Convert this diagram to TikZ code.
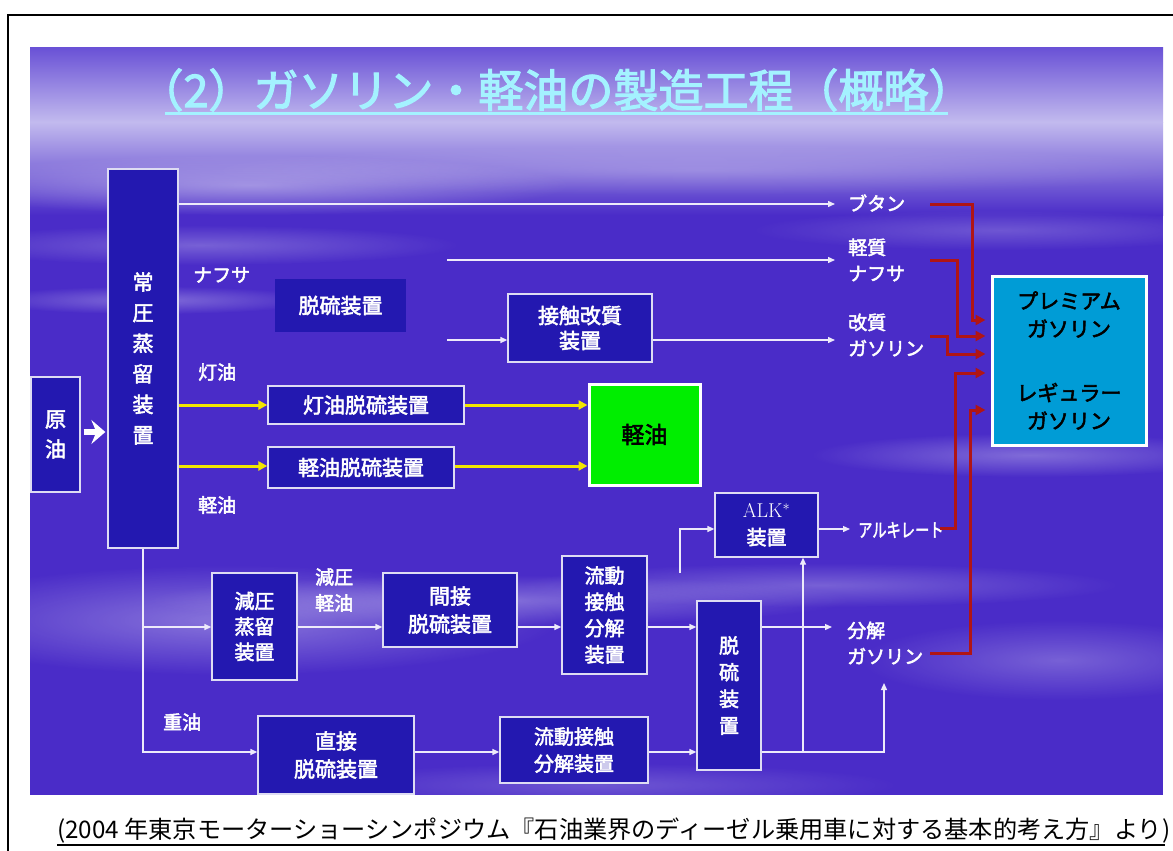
\documentclass[tikz,border=0pt]{standalone}
\usepackage{fontspec}
\usepackage{graphicx}
\newfontfamily\jp{Noto Sans CJK JP}
\newfontfamily\jpb{Noto Sans CJK JP}[FakeBold=2.5]
\usetikzlibrary{arrows.meta,fadings,calc}
\definecolor{bg}{HTML}{4A2CC8}
\definecolor{bgtop}{HTML}{6A52D6}
\definecolor{bglight}{HTML}{C2BAEE}
\definecolor{boxblue}{HTML}{2318B0}
\definecolor{gasblue}{HTML}{009CD6}
\definecolor{oilgreen}{HTML}{00EE00}
\definecolor{redline}{HTML}{B01515}
\definecolor{yel}{HTML}{F2E600}
\definecolor{titlecyan}{HTML}{A4F2FF}
\tikzfading[name=soft, inner color=transparent!0, outer color=transparent!100]
\tikzset{
  box/.style={draw=white!85!boxblue, line width=1.3pt, fill=boxblue, text=white,
    font=\jpb\fontsize{21}{28}\selectfont, align=center, inner sep=0pt},
  lbl/.style={text=white, font=\jpb\fontsize{19}{26}\selectfont, align=left, inner sep=0pt, anchor=west},
  wl/.style={draw=white!90!bg, line width=1.3pt, -{Triangle[length=7pt,width=6pt]}},
  yl/.style={draw=yel, line width=3pt, -{Triangle[length=9pt,width=9pt]}},
  rl/.style={draw=redline, line width=3pt, -{Triangle[length=10pt,width=10pt]}, shorten >=5pt},
  streak/.style={fill=white, path fading=soft},
}
\begin{document}
\begin{tikzpicture}[x=1pt,y=-1pt]
\useasboundingbox (0,0) rectangle (1173,851);
\fill[white] (0,0) rectangle (1173,851);
% slide background
\fill[bg] (30,48) rectangle (1163,795);
\begin{scope}
\clip (30,48) rectangle (1163,795);
\shade[top color=bgtop, bottom color=bglight] (30,48) rectangle (1163,122);
\shade[top color=bglight, bottom color=bg] (30,122) rectangle (1163,215);
\fill[streak, opacity=0.35] (250,185) ellipse [x radius=320, y radius=30];
\fill[streak, opacity=0.25] (200,245) ellipse [x radius=260, y radius=20];
\fill[streak, opacity=0.2] (700,170) ellipse [x radius=500, y radius=25];
\fill[streak, opacity=0.3] (150,300) ellipse [x radius=170, y radius=14];
\fill[streak, opacity=0.35] (230,620) ellipse [x radius=330, y radius=55];
\fill[streak, opacity=0.3] (500,600) ellipse [x radius=350, y radius=25];
\fill[streak, opacity=0.25] (820,585) ellipse [x radius=300, y radius=22];
\fill[streak, opacity=0.3] (1030,455) ellipse [x radius=220, y radius=22];
\fill[streak, opacity=0.25] (1060,660) ellipse [x radius=200, y radius=40];
\fill[streak, opacity=0.2] (600,785) ellipse [x radius=300, y radius=22];
\fill[streak, opacity=0.2] (1000,230) ellipse [x radius=250, y radius=20];
\end{scope}
% frame
\draw[line width=2.5pt] (8,851) -- (8,15) -- (1173,15);
% title
\node[font=\jpb\fontsize{45}{45}\selectfont, text=titlecyan, inner sep=0pt] (title) at (556,90) {（2）ガソリン・軽油の製造工程（概略）};
\draw[titlecyan, line width=3pt] (165,113) -- (948,113);
% boxes
\node[box, minimum width=49pt, minimum height=115pt, font=\jpb\fontsize{21}{30}\selectfont] (gen) at (55.5,434.5) {原\\油};
\node[box, minimum width=70pt, minimum height=379pt, font=\jpb\fontsize{21}{30.6}\selectfont] (jouatsu) at (143,358.5) {常\\圧\\蒸\\留\\装\\置};
\node[box, draw=boxblue, minimum width=129pt, minimum height=51pt] (datsu1) at (340.5,305.5) {脱硫装置};
\node[box, minimum width=144pt, minimum height=68pt, font=\jpb\fontsize{21}{25}\selectfont] (sesshoku) at (580,328) {接触改質\\装置};
\node[box, minimum width=196pt, minimum height=38pt] (toyu) at (366,405) {灯油脱硫装置};
\node[box, minimum width=186pt, minimum height=41pt] (keiyud) at (361,467.5) {軽油脱硫装置};
\node[box, draw=white, line width=3pt, fill=oilgreen, text=black, minimum width=111pt, minimum height=101pt, font=\jpb\fontsize{23}{28}\selectfont] (keiyu) at (644.5,434.5) {軽油};
\node[box, draw=white, line width=3pt, fill=gasblue, text=black, minimum width=154pt, minimum height=169pt, font=\jpb\fontsize{21}{28}\selectfont] (gas) at (1069,360.5) {プレミアム\\ガソリン\\[36pt]レギュラー\\ガソリン};
\node[box, minimum width=103pt, minimum height=64pt, font=\jpb\fontsize{20}{27}\selectfont] (alk) at (766.5,525) {{\rmfamily ALK$^{\ast}$}\\装置};
\node[box, minimum width=85pt, minimum height=107pt, font=\jpb\fontsize{20}{25.5}\selectfont] (genatsu) at (254.5,626.5) {減圧\\蒸留\\装置};
\node[box, minimum width=134pt, minimum height=74pt, font=\jpb\fontsize{21}{28}\selectfont] (kansetsu) at (450,610) {間接\\脱硫装置};
\node[box, minimum width=85pt, minimum height=118pt, font=\jpb\fontsize{20}{26.3}\selectfont] (ryudo1) at (604.5,615) {流動\\接触\\分解\\装置};
\node[box, minimum width=64pt, minimum height=169pt, font=\jpb\fontsize{20}{26.7}\selectfont] (datsu2) at (729,685.5) {脱\\硫\\装\\置};
\node[box, minimum width=156pt, minimum height=78pt, font=\jpb\fontsize{21}{28}\selectfont] (chokusetsu) at (336,755) {直接\\脱硫装置};
\node[box, minimum width=148pt, minimum height=66pt, font=\jpb\fontsize{20}{27}\selectfont] (ryudo2) at (574,750) {流動接触\\分解装置};
% labels
\node[lbl] (lb1) at (848,203) {ブタン};
\node[lbl] (lb2) at (848,260) {軽質\\ナフサ};
\node[lbl] (lb3) at (848,335) {改質\\ガソリン};
\node[lbl] (lb4) at (193,275) {ナフサ};
\node[lbl] (lb5) at (198,372) {灯油};
\node[lbl] (lb6) at (198,505) {軽油};
\node[lbl] (lb7) at (858,530) {\scalebox{0.75}[1]{アルキレート}};
\node[lbl] (lb8) at (847,643) {分解\\ガソリン};
\node[lbl] (lb9) at (315,590) {減圧\\軽油};
\node[lbl] (lb10) at (163,722) {重油};
% coordinates
\coordinate (bE) at (835,204);
\coordinate (nA) at (447,260);
\coordinate (nAe) at (835,260);
\coordinate (nB) at (447,340);
\coordinate (kE) at (835,340);
\coordinate (alkS) at (680,573);
\coordinate (alkE) at (850,529);
\coordinate (bunE) at (832,627);
\coordinate (bunUp) at (884,683);
\coordinate (r1) at (0,627);
\coordinate (r2) at (0,752);
\coordinate (br) at (803,752);
\coordinate (ya) at (0,320);
\coordinate (yb) at (0,336);
\coordinate (yc) at (0,354);
\coordinate (yd) at (0,373);
\coordinate (ye) at (0,410);
\coordinate (yk) at (0,466);
\coordinate (yg) at (0,432);
% crude arrow
\draw[white, line width=6pt, -{Stealth[length=14pt,width=24pt,inset=5pt]}] ([xshift=3pt]gen.east |- yg) -- ([xshift=-2pt]jouatsu.west |- yg);
% white connectors
\draw[wl] (jouatsu.east |- bE) -- (bE);
\draw[wl] (nA) -- (nAe);
\draw[wl] (nB) -- (sesshoku.west |- nB);
\draw[wl] (sesshoku.east |- kE) -- (kE);
\draw[wl] (alkS) |- (alk.west |- alkE);
\draw[wl] (alk.east |- alkE) -- (alkE);
\draw[wl] (jouatsu.south) |- (chokusetsu.west |- r2);
\draw[wl] (jouatsu.south |- r1) -- (genatsu.west |- r1);
\draw[wl] (genatsu.east |- r1) -- (kansetsu.west |- r1);
\draw[wl] (kansetsu.east |- r1) -- (ryudo1.west |- r1);
\draw[wl] (ryudo1.east |- r1) -- (datsu2.west |- r1);
\draw[wl] (datsu2.east |- r1) -- (bunE);
\draw[wl] (chokusetsu.east |- r2) -- (ryudo2.west |- r2);
\draw[wl] (ryudo2.east |- r2) -- (datsu2.west |- r2);
\draw[wl] (datsu2.east |- r2) -| (bunUp);
\draw[wl] (br) -- (br |- alk.south);
% yellow connectors
\draw[yl] (jouatsu.east |- toyu.west) -- (toyu.west);
\draw[yl] (jouatsu.east |- yk) -- (keiyud.west |- yk);
\draw[yl] (toyu.east) -- (keiyu.west |- toyu.east);
\draw[yl] (keiyud.east |- yk) -- (keiyu.west |- yk);
% red connectors
\draw[rl] (930,204) -| (972,320) -- (gas.west |- ya);
\draw[rl] (930,260) -| (957,336) -- (gas.west |- yb);
\draw[rl] (930,336) -| (947,354) -- (gas.west |- yc);
\draw[rl] (940,528) -| (955,373) -- (gas.west |- yd);
\draw[rl] (930,653) -| (970,410) -- (gas.west |- ye);
% caption
\node[font=\jp\fontsize{24.2}{24.2}\selectfont, anchor=west, inner sep=0pt] (cap) at (57,831) {(2004 年東京モーターショーシンポジウム『石油業界のディーゼル乗用車に対する基本的考え方』より)};
\draw[line width=1.5pt] (57,845) -- (1165,845);
\end{tikzpicture}
\end{document}
